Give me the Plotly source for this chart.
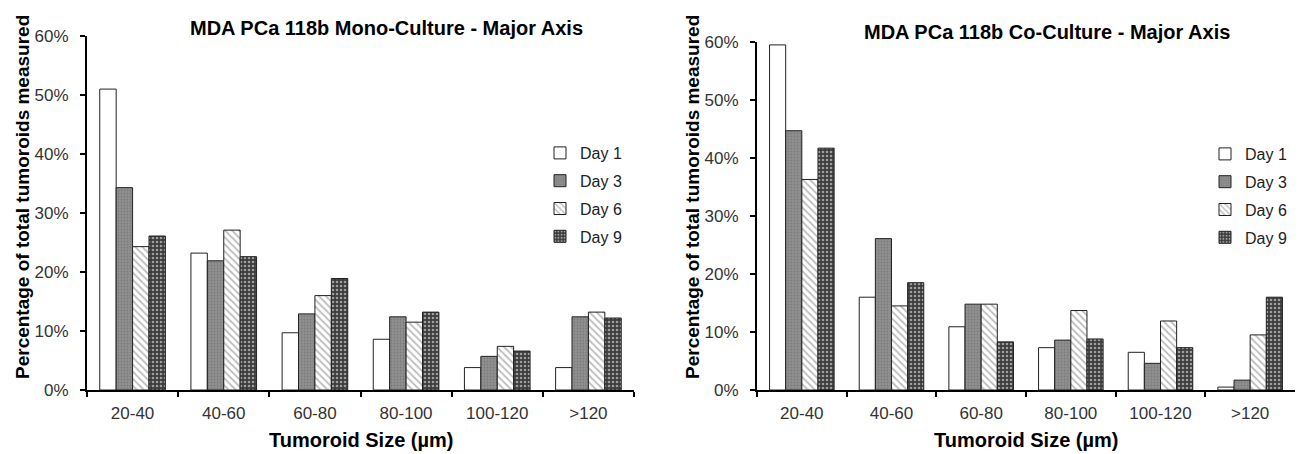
import plotly.graph_objects as go

categories = ["20-40", "40-60", "60-80", "80-100", "100-120", ">120"]
series_names = ["Day 1", "Day 3", "Day 6", "Day 9"]

mono_day1 = [51.0, 23.2, 9.7, 8.6, 3.8, 3.8]
mono_day3 = [34.3, 21.9, 12.9, 12.4, 5.7, 12.4]
mono_day6 = [24.3, 27.1, 16.0, 11.5, 7.4, 13.2]
mono_day9 = [26.1, 22.6, 18.9, 13.2, 6.6, 12.2]

co_day1 = [59.5, 16.0, 10.9, 7.3, 6.5, 0.5]
co_day3 = [44.7, 26.1, 14.8, 8.6, 4.6, 1.7]
co_day6 = [36.3, 14.5, 14.8, 13.7, 11.9, 9.5]
co_day9 = [41.7, 18.5, 8.3, 8.8, 7.3, 16.0]

title_left = "MDA PCa 118b Mono-Culture - Major Axis"
title_right = "MDA PCa 118b Co-Culture - Major Axis"
x_title = "Tumoroid Size (µm)"
y_title = "Percentage of total tumoroids measured"

styles = [
    dict(color="white", pattern=dict(shape="")),
    dict(color="#8a8a8a", pattern=dict(shape=".", fgcolor="#6a6a6a", bgcolor="#8f8f8f", size=3, solidity=0.3)),
    dict(color="white", pattern=dict(shape="\\", fgcolor="#7a7a7a", bgcolor="white", size=5, solidity=0.35)),
    dict(color="#444", pattern=dict(shape=".", fgcolor="white", bgcolor="#3c3c3c", size=4, solidity=0.35)),
]

fig = go.Figure()
mono = [mono_day1, mono_day3, mono_day6, mono_day9]
co = [co_day1, co_day3, co_day6, co_day9]

for i, (name, vals) in enumerate(zip(series_names, mono)):
    st = styles[i]
    fig.add_trace(go.Bar(
        x=categories, y=vals, name=name, xaxis="x", yaxis="y",
        marker=dict(color=st["color"], pattern=st["pattern"], line=dict(color="#222", width=1)),
        legend="legend", legendgroup="m" + str(i), hoverinfo="skip",
    ))
for i, (name, vals) in enumerate(zip(series_names, co)):
    st = styles[i]
    fig.add_trace(go.Bar(
        x=categories, y=vals, name=name, xaxis="x2", yaxis="y2",
        marker=dict(color=st["color"], pattern=st["pattern"], line=dict(color="#222", width=1)),
        legend="legend2", legendgroup="c" + str(i), hoverinfo="skip",
    ))

# page body has an 8px margin; figure is sized to fit inside the window
OFF = 8
W, H = 1310 - OFF, 454 - OFF


def px(x):
    return (x - OFF) / W


def py(y):
    return 1 - (y - OFF) / H


axis_common = dict(showline=True, linecolor="black", linewidth=2, showgrid=False, zeroline=False,
                   automargin=False,
                   tickfont=dict(family="Liberation Sans, Arial", size=17, color="#333"))
xcommon = dict(ticks="outside", ticklen=5, tickcolor="black", tickwidth=2, tickson="boundaries",
               ticklabelstandoff=7, **axis_common)
ycommon = dict(range=[0, 60], dtick=10, ticksuffix="%", ticks="outside", ticklen=5, tickcolor="black",
               tickwidth=2, ticklabelstandoff=8, **axis_common)

fig.update_layout(
    width=W, height=H,
    margin=dict(l=0, r=0, t=0, b=0),
    paper_bgcolor="white", plot_bgcolor="white",
    barmode="group", bargap=0.28, bargroupgap=0,
    font=dict(family="Liberation Sans, Arial", color="#222"),
    xaxis=dict(domain=[px(87), px(634)], anchor="y", **xcommon),
    yaxis=dict(domain=[py(390), py(36)], anchor="x", **ycommon),
    xaxis2=dict(domain=[px(757), px(1295)], anchor="y2", **xcommon),
    yaxis2=dict(domain=[py(390), py(42)], anchor="x2", **ycommon),
    legend=dict(x=px(540), y=py(136), xanchor="left", yanchor="top", tracegroupgap=4,
                font=dict(size=16, color="#222"), bgcolor="rgba(0,0,0,0)"),
    legend2=dict(x=px(1205), y=py(137), xanchor="left", yanchor="top", tracegroupgap=4,
                 font=dict(size=16, color="#222"), bgcolor="rgba(0,0,0,0)"),
)

ann_font = dict(family="Liberation Sans, Arial", size=20, color="black")
ytitle_font = dict(family="Liberation Sans, Arial", size=19, color="black")
anns = [
    dict(text="<b>" + title_left + "</b>", x=px(386), y=py(28), font=ann_font),
    dict(text="<b>" + title_right + "</b>", x=px(1047), y=py(32), font=ann_font),
    dict(text="<b>" + x_title + "</b>", x=px(361), y=py(440), font=ann_font),
    dict(text="<b>" + x_title + "</b>", x=px(1026), y=py(440), font=ann_font),
    dict(text="<b>" + y_title + "</b>", x=px(22), y=py(197), textangle=-90, font=ytitle_font),
    dict(text="<b>" + y_title + "</b>", x=px(692), y=py(197), textangle=-90, font=ytitle_font),
]
for a in anns:
    fig.add_annotation(xref="paper", yref="paper", xanchor="center", yanchor="middle",
                       showarrow=False, **a)

fig.write_html("out.html")
